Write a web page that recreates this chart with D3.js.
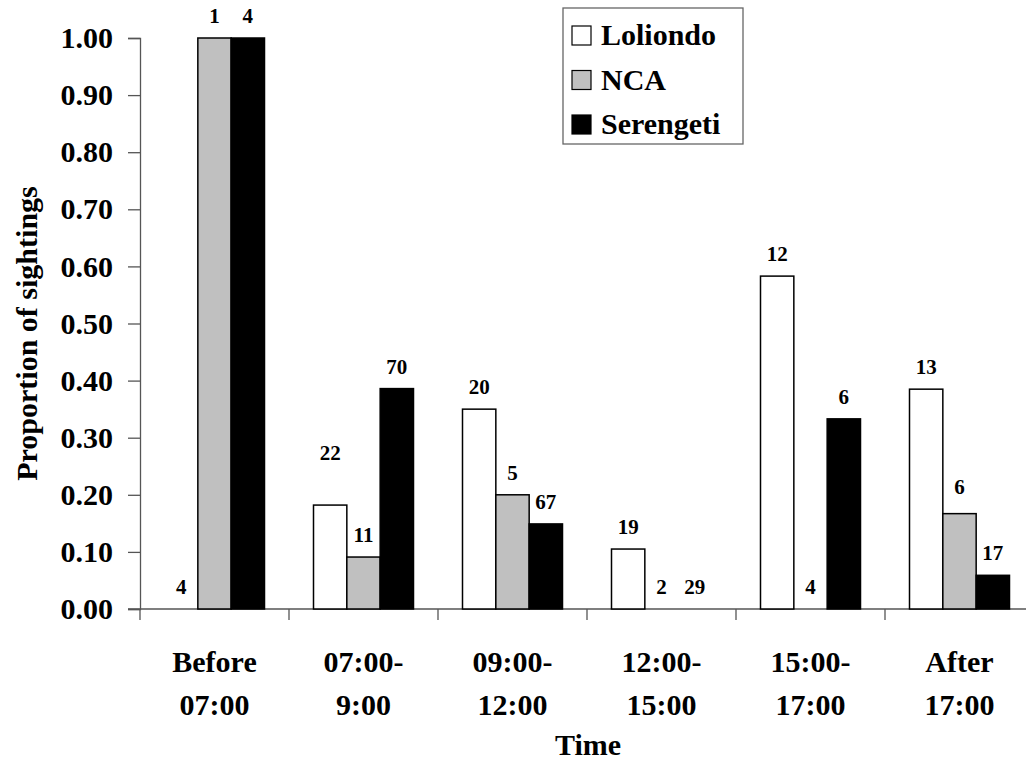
<!DOCTYPE html>
<html>
<head>
<meta charset="utf-8">
<script src="https://cdn.jsdelivr.net/npm/d3@7"></script>
<style>
  svg text, svg tspan { font-family: "Liberation Serif", "Times New Roman", Tinos, serif !important; font-weight: bold !important; }
</style>
</head>
<body style="margin:0">
<svg id="chart" width="1026" height="760"></svg>
<script>
// ---- data ----
const categories = ["Before 07:00", "07:00-9:00", "09:00-12:00", "12:00-15:00", "15:00-17:00", "After 17:00"];
const categoryLines = [["Before", "07:00"], ["07:00-", "9:00"], ["09:00-", "12:00"], ["12:00-", "15:00"], ["15:00-", "17:00"], ["After", "17:00"]];
const series = ["Loliondo", "NCA", "Serengeti"];
const loliondo = [0.000, 0.182, 0.350, 0.105, 0.583, 0.385];
const nca = [1.000, 0.091, 0.200, 0.000, 0.000, 0.167];
const serengeti = [1.000, 0.386, 0.149, 0.000, 0.333, 0.059];
const loliondoN = [4, 22, 20, 19, 12, 13];
const ncaN = [1, 11, 5, 2, 4, 6];
const serengetiN = [4, 70, 67, 29, 6, 17];
const yTicks = [0.0, 0.1, 0.2, 0.3, 0.4, 0.5, 0.6, 0.7, 0.8, 0.9, 1.0];
const yTitle = "Proportion of sightings";
const xTitle = "Time";

(function () {
const FONT = "serif";
const values = { "Loliondo": loliondo, "NCA": nca, "Serengeti": serengeti };
const counts = { "Loliondo": loliondoN, "NCA": ncaN, "Serengeti": serengetiN };
const fills = { "Loliondo": "#ffffff", "NCA": "#c0c0c0", "Serengeti": "#000000" };

function styleText(sel, size) {
  return sel.attr("font-family", FONT).attr("font-weight", "bold").attr("font-size", size).attr("fill", "#000");
}

const svg = d3.select("#chart");
const pLeft = 140, pRight = 1034, pTop = 38, pBottom = 609;

const x0 = d3.scaleBand().domain(categories).range([pLeft, pRight]).padding(0);
const groupPad = (x0.bandwidth() - 100) / 2;
const x1 = d3.scaleBand().domain(series).range([groupPad, groupPad + 100]).padding(0);
const y = d3.scaleLinear().domain([0, 1]).range([pBottom, pTop]);

const axisColor = "#555";

// y axis
const yAxis = d3.axisLeft(y).tickValues(yTicks).tickFormat(d3.format(".2f")).tickSize(12).tickPadding(15);
const gy = svg.append("g").attr("transform", `translate(${pLeft},0)`).call(yAxis);
gy.attr("font-family", FONT).attr("font-size", 30);
gy.select(".domain").attr("stroke", axisColor).attr("stroke-width", 1.3);
gy.selectAll(".tick line").attr("stroke", axisColor).attr("stroke-width", 1.3);
styleText(gy.selectAll(".tick text"), 30);

// x axis line and boundary ticks
const gx = svg.append("g");
gx.append("line").attr("x1", pLeft - 12).attr("x2", pRight).attr("y1", pBottom).attr("y2", pBottom)
  .attr("stroke", axisColor).attr("stroke-width", 1.3);
const bounds = categories.map(c => x0(c)).concat([x0(categories[categories.length - 1]) + x0.bandwidth()]);
gx.selectAll("line.bt").data(bounds).enter().append("line").attr("class", "bt")
  .attr("x1", d => d).attr("x2", d => d).attr("y1", pBottom).attr("y2", pBottom + 11)
  .attr("stroke", axisColor).attr("stroke-width", 1.3);

// category labels
const cl = styleText(svg.append("g").selectAll("text").data(categories).enter().append("text")
  .attr("x", d => x0(d) + x0.bandwidth() / 2)
  .attr("text-anchor", "middle"), 30);
cl.each(function(d, i) {
  const t = d3.select(this);
  categoryLines[i].forEach((ln, j) => {
    t.append("tspan").attr("x", x0(d) + x0.bandwidth() / 2).attr("y", 672 + j * 43).text(ln);
  });
});

// bars
const flat = [];
categories.forEach((c, i) => series.forEach(s => flat.push({ c, s, v: values[s][i], n: counts[s][i] })));

svg.append("g").selectAll("rect").data(flat.filter(d => d.v > 0)).enter().append("rect")
  .attr("x", d => x0(d.c) + x1(d.s))
  .attr("y", d => y(d.v))
  .attr("width", x1.bandwidth())
  .attr("height", d => y(0) - y(d.v))
  .attr("fill", d => fills[d.s])
  .attr("stroke", "#000").attr("stroke-width", 1.5);

// count labels
const nudge = { "07:00-9:00|Loliondo": 30, "After 17:00|NCA": 5 };
styleText(svg.append("g").selectAll("text").data(flat).enter().append("text")
  .attr("x", d => x0(d.c) + x1(d.s) + x1.bandwidth() / 2)
  .attr("y", d => y(d.v) - 15 - (nudge[d.c + "|" + d.s] || 0))
  .attr("text-anchor", "middle")
  .text(d => d.n), 21);

// axis titles
styleText(svg.append("text").attr("transform", `translate(37,${(pTop + pBottom) / 2 + 10}) rotate(-90)`)
  .attr("text-anchor", "middle").text(yTitle), 30);
styleText(svg.append("text").attr("x", 588).attr("y", 755).attr("text-anchor", "middle").text(xTitle), 30);

// legend
const lg = svg.append("g");
lg.append("rect").attr("x", 563).attr("y", 8).attr("width", 180).attr("height", 136)
  .attr("fill", "#fff").attr("stroke", "#666").attr("stroke-width", 1.3);
const rowY = d3.scalePoint().domain(series).range([35, 124]);
series.forEach(s => {
  lg.append("rect").attr("x", 572).attr("y", rowY(s) - 9).attr("width", 19).attr("height", 19)
    .attr("fill", fills[s]).attr("stroke", "#000").attr("stroke-width", 1.2);
  styleText(lg.append("text").attr("x", 601).attr("y", rowY(s) + 10).text(s), 30);
});
})();
</script>
</body>
</html>
